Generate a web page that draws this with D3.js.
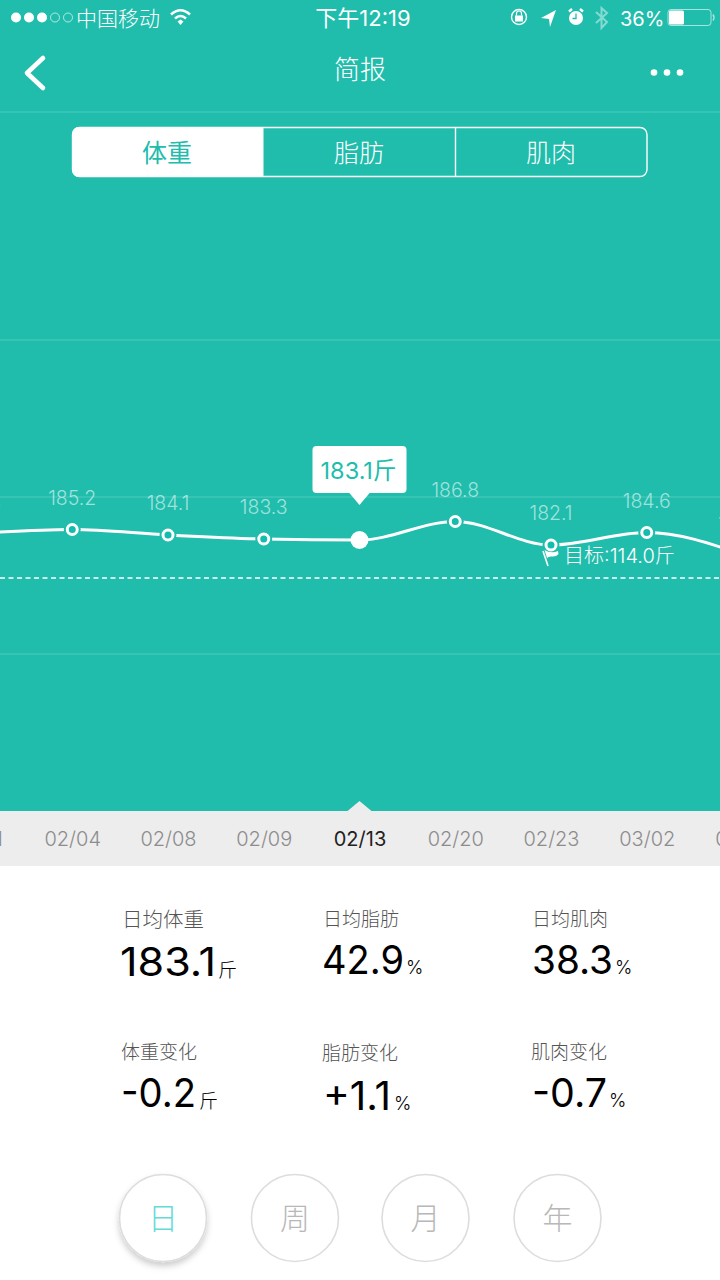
<!DOCTYPE html>
<html><head><meta charset="utf-8">
<script src="https://cdn.jsdelivr.net/npm/d3@7"></script>
<style>
html,body{margin:0;padding:0;background:#fff;width:720px;height:1280px;overflow:hidden}
svg{display:block}
text{font-family:"Inter","Noto Sans CJK SC",sans-serif;font-weight:300}
.cjk{font-family:"Noto Sans CJK SC",sans-serif;font-weight:300}
</style></head><body>
<script>
const dates = ["02/01","02/04","02/08","02/09","02/13","02/20","02/23","03/02","03/05"];
const weights = [184.4,185.2,184.1,183.3,183.1,186.8,182.1,184.6,180.2];
const targetWeight = 114.0;
const selectedIndex = 4;
const gridLevels = [340,497,654];
const tabs = ["体重","脂肪","肌肉"];
const statLabels = ["日均体重","日均脂肪","日均肌肉","体重变化","脂肪变化","肌肉变化"];
const statValues = ["183.1","42.9","38.3","-0.2","+1.1","-0.7"];
const statUnits = ["斤","%","%","斤","%","%"];
const periods = ["日","周","月","年"];

const teal = "#20bdad";
const svg = d3.select("body").append("svg").attr("width",720).attr("height",1280);
svg.append("rect").attr("width",720).attr("height",811).attr("fill",teal);

const defs = svg.append("defs");
const f = defs.append("filter").attr("id","sh").attr("x","-30%").attr("y","-30%").attr("width","160%").attr("height","160%");
f.append("feDropShadow").attr("dx",0).attr("dy",4).attr("stdDeviation",3).attr("flood-color","#000").attr("flood-opacity",0.2);

// status bar
const sb = svg.append("g");
[0,1,2,3,4].forEach(i=>{
  sb.append("circle").attr("cx",16+i*13).attr("cy",17.5).attr("r",i<3?5:4.5)
    .attr("fill",i<3?"#fff":"none").attr("stroke","#fff").attr("stroke-width",i<3?0:0.8).attr("opacity",i<3?1:0.8);
});
sb.append("text").attr("class","cjk").attr("x",76).attr("y",25.5).attr("font-size",21).attr("fill","#fff").text("中国移动");
const wifi = sb.append("g").attr("fill","none").attr("stroke","#fff").attr("stroke-width",2.6);
wifi.append("path").attr("d","M171 14.5 Q180.500 6 190 14.5");
wifi.append("path").attr("d","M175 18.5 Q180.500 13.500 186 18.5");
sb.append("path").attr("d","M177.500 21.500 L180.500 19.500 L183.500 21.500 L180.500 25 Z").attr("fill","#fff");
sb.append("text").attr("x",363).attr("y",26).attr("text-anchor","middle").attr("font-size",22).attr("fill","#fff").style("font-weight",400).text("下午12:19");
sb.append("circle").attr("cx",519).attr("cy",17).attr("r",7.5).attr("fill","none").attr("stroke","#fff").attr("stroke-width",1.4);
sb.append("rect").attr("x",515).attr("y",15.5).attr("width",8).attr("height",6).attr("fill","#fff");
sb.append("path").attr("d","M516.5 15.5 V13.5 A2.5 2.5 0 0 1 521.5 13.5 V15.5").attr("fill","none").attr("stroke","#fff").attr("stroke-width",1.2);
sb.append("path").attr("d","M556 10 L541 18 L549 19 L550 27 Z").attr("fill","#fff");
sb.append("circle").attr("cx",576).attr("cy",18).attr("r",7).attr("fill","#fff");
sb.append("path").attr("d","M576 13.5 V18.5 H572.5").attr("fill","none").attr("stroke",teal).attr("stroke-width",1.3);
sb.append("path").attr("d","M569 11.5 L572 9 M583 11.5 L580 9").attr("stroke","#fff").attr("stroke-width",2.4);
sb.append("path").attr("d","M596 12 L607 22 L601.5 28 V8 L607 13 L596 23").attr("fill","none").attr("stroke","#fff").attr("stroke-opacity",0.45).attr("stroke-width",2);
sb.append("text").attr("x",620).attr("y",25.5).attr("font-size",20).attr("fill","#fff").style("font-weight",400).text("36%");
sb.append("rect").attr("x",668).attr("y",9.5).attr("width",43).attr("height",16).attr("rx",3).attr("fill","none").attr("stroke","#fff").attr("stroke-opacity",.6).attr("stroke-width",1);
sb.append("rect").attr("x",669).attr("y",10.5).attr("width",15).attr("height",14).attr("rx",1.5).attr("fill","#fff");
sb.append("path").attr("d","M713 14.5 Q715 17.5 713 20.5").attr("fill","none").attr("stroke","#fff").attr("stroke-opacity",.6).attr("stroke-width",1.5);

// nav bar
svg.append("path").attr("d","M43 58 L27 73 L43 88").attr("fill","none").attr("stroke","#fff").attr("stroke-width",4.6).attr("stroke-linecap","round").attr("stroke-linejoin","round");
svg.append("text").attr("class","cjk").attr("x",360).attr("y",79).attr("text-anchor","middle").attr("font-size",26).attr("fill","#fff").text("简报");
[654,667,680].forEach(cx=>svg.append("circle").attr("cx",cx).attr("cy",72.5).attr("r",3.3).attr("fill","#fff"));
svg.append("line").attr("x1",0).attr("x2",720).attr("y1",112).attr("y2",112).attr("stroke","#fff").attr("stroke-opacity",.12).attr("stroke-width",1.5);

// segment
const tabX = [72,263.5,455.5,647];
svg.append("path").attr("d",`M${tabX[1]} 127 H79 A7 7 0 0 0 72 134 V170 A7 7 0 0 0 79 177 H${tabX[1]} Z`).attr("fill","#fff");
svg.append("rect").attr("x",72.5).attr("y",127.5).attr("width",574.5).attr("height",49).attr("rx",7).attr("fill","none").attr("stroke","#fff").attr("stroke-width",1.4);
svg.append("line").attr("x1",tabX[2]).attr("x2",tabX[2]).attr("y1",127).attr("y2",177).attr("stroke","#fff").attr("stroke-width",1.4);
tabs.forEach((t,i)=>svg.append("text").attr("class","cjk").attr("x",[167,359,551][i]).attr("y",161.5).attr("text-anchor","middle").attr("font-size",25).attr("fill",i===0?teal:"#fff").style("font-weight",i===0?400:300).text(t));

// chart
const x = d3.scalePoint().domain(dates).range([-23.5,742.5]);
// the reference axis is visibly compressed toward the far-off target, so the scale is piecewise
const y = d3.scaleLinear().domain([targetWeight,178,186.8]).range([578,565.5,521.5]);
svg.append("g").selectAll("line").data(gridLevels).join("line")
  .attr("x1",0).attr("x2",720).attr("y1",d=>d).attr("y2",d=>d)
  .attr("stroke","#fff").attr("stroke-opacity",.14).attr("stroke-width",1.5);
svg.append("line").attr("x1",0).attr("x2",720).attr("y1",y(targetWeight)).attr("y2",y(targetWeight))
  .attr("stroke","#fff").attr("stroke-width",1.6).attr("stroke-dasharray","5 3.5");
const line = d3.line().x((d,i)=>x(dates[i])).y(d=>y(d)).curve(d3.curveMonotoneX);
svg.append("path").attr("d",line(weights)).attr("fill","none").attr("stroke","#fff").attr("stroke-width",3);
const pts = svg.append("g").selectAll("g").data(weights).join("g");
pts.filter((d,i)=>i!==selectedIndex).append("circle").attr("cx",d=>x(dates[weights.indexOf(d)])).attr("cy",d=>y(d)).attr("r",8.5).attr("fill",teal);
pts.append("circle").attr("cx",(d,i)=>x(dates[i])).attr("cy",d=>y(d))
  .attr("r",(d,i)=>i===selectedIndex?9:5)
  .attr("fill",(d,i)=>i===selectedIndex?"#fff":"#12bdae").attr("stroke","#fff").attr("stroke-width",(d,i)=>i===selectedIndex?0:3);
pts.filter((d,i)=>i!==selectedIndex).append("text")
  .attr("x",d=>x(dates[weights.indexOf(d)])).attr("y",d=>y(d)-25)
  .attr("text-anchor","middle").attr("font-size",19.5).attr("fill","#fff").attr("fill-opacity",.58).text(d=>d.toFixed(1));

// tooltip
const sx = x(dates[selectedIndex]), sy = y(weights[selectedIndex]);
const tip = svg.append("g");
tip.append("rect").attr("x",sx-47).attr("y",446).attr("width",94).attr("height",47).attr("rx",4).attr("fill","#fff");
tip.append("path").attr("d",`M${sx-11} 492 L${sx} 505 L${sx+11} 492 Z`).attr("fill","#fff");
tip.append("text").attr("x",sx-1).attr("y",479).attr("text-anchor","middle").attr("font-size",23.5).attr("fill",teal).style("font-weight",400).text(weights[selectedIndex].toFixed(1)+"斤");

// flag + target label
svg.append("path").attr("d","M543 551 L548 566").attr("stroke","#fff").attr("stroke-width",1.6).attr("fill","none");
svg.append("path").attr("d","M544.5 550 Q551 554 558 551 L558.5 554 Q556 557 552 556.5 Q549 556 547 558 Z").attr("fill","#fff");
svg.append("text").attr("x",564).attr("y",563).attr("font-size",20).attr("fill","#fff").text("目标:"+targetWeight.toFixed(1)+"斤");

// date band + axis
svg.append("rect").attr("y",811).attr("width",720).attr("height",55).attr("fill","#ededed");
svg.append("path").attr("d",`M${sx-12} 811 L${sx} 801 L${sx+12} 811 Z`).attr("fill","#ededed");
const ax = svg.append("g").attr("transform","translate(0,839)").call(d3.axisBottom(x).tickSize(0).tickPadding(0));
ax.select(".domain").remove();
ax.selectAll("text").attr("y",0).attr("dy","0.36em").attr("font-size",20).attr("font-family",null)
  .attr("fill",(d,i)=>i===selectedIndex?"#222":"#8c8c8c").style("font-weight",(d,i)=>i===selectedIndex?400:300);

// stats
const labelX=[122,323,532,121,322,531], labelY=[927,926,926,1059,1060,1059], labelSize=[20.5,19,19,19,19,19];
const valX=[120,322,532,121,323,532], valY=[976,974,974,1107,1110,1107], valW=[96,82,81,75,68,75];
const unitX=[218,406,615,199,394,609];
statLabels.forEach((l,i)=>{
  svg.append("text").attr("class","cjk").attr("x",labelX[i]).attr("y",labelY[i]).attr("font-size",labelSize[i]).attr("fill","#555").text(l);
  svg.append("text").attr("x",valX[i]).attr("y",valY[i]).attr("fill","#000").attr("font-size",39).style("font-weight",400)
    .attr("textLength",valW[i]).attr("lengthAdjust","spacingAndGlyphs").text(statValues[i]);
  svg.append("text").attr("x",unitX[i]).attr("y",valY[i]+(statUnits[i]==="斤"?1:0)).attr("fill","#000").attr("font-size",statUnits[i]==="斤"?19:18.5).attr("class",statUnits[i]==="斤"?"cjk":null).text(statUnits[i]);
});

// period buttons
const btnX=[163,295,425.5,557.5];
periods.forEach((p,i)=>{
  svg.append("circle").attr("cx",btnX[i]).attr("cy",1218).attr("r",43.5).attr("fill","#fff").attr("stroke","#ddd").attr("stroke-width",1.6)
    .attr("filter",i===0?"url(#sh)":null);
  svg.append("text").attr("class","cjk").attr("x",btnX[i]).attr("y",1229).attr("text-anchor","middle").attr("font-size",30)
    .attr("fill",i===0?"#63dcd8":"#b8b8b8").text(p);
});
</script>
</body></html>
